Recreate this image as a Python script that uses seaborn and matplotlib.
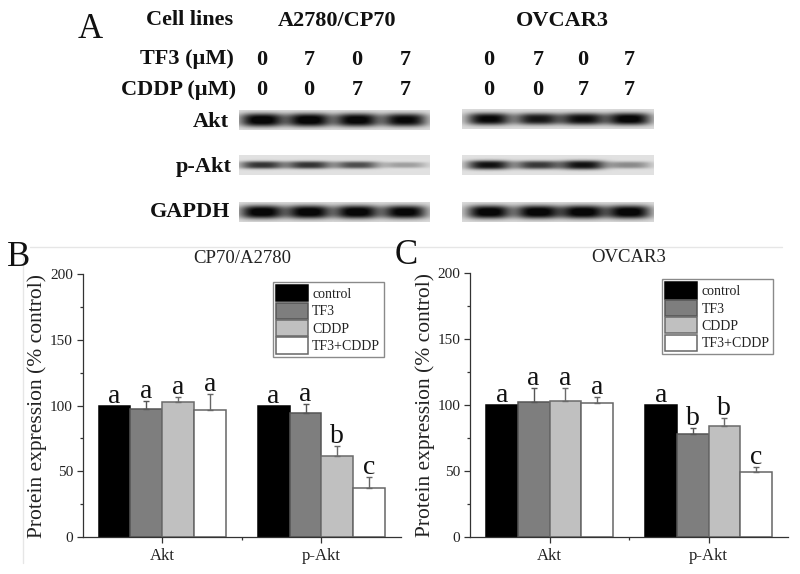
import numpy as np
import pandas as pd
import matplotlib
matplotlib.use('Agg')
import matplotlib.pyplot as plt
from matplotlib.lines import Line2D
from matplotlib.ticker import MultipleLocator, FixedLocator
import seaborn as sns

W, H = 800, 574

proteins = ['Akt', 'p-Akt']
treatments = ['control', 'TF3', 'CDDP', 'TF3+CDDP']
fills = ['#000000', '#7e7e7e', '#c0c0c0', '#ffffff']
edges = ['#000000', '#555555', '#6a6a6a', '#666666']

# values per treatment, order Akt, p-Akt
cp70_vals = [[100, 100], [97.3, 94], [103, 61.8], [96.3, 36.8]]
cp70_tops = [[100, 100], [103.7, 100.9], [106.7, 69.4], [108.8, 45.7]]
cp70_letters = [['a', 'a'], ['a', 'a'], ['a', 'b'], ['a', 'c']]

ovcar_vals = [[100, 100], [102, 78.2], [103, 84.3], [101.5, 48.9]]
ovcar_tops = [[100, 100], [112.7, 82.3], [112.7, 89.9], [105.8, 52.7]]
ovcar_letters = [['a', 'a'], ['a', 'b'], ['a', 'b'], ['a', 'c']]

tf3_doses = ['0', '7', '0', '7']
cddp_doses = ['0', '0', '7', '7']

akt_left = [0.90, 0.90, 0.88, 0.85]
akt_right = [0.85, 0.78, 0.82, 0.88]
pakt_left = [0.68, 0.68, 0.58, 0.26]
pakt_right = [0.82, 0.66, 0.82, 0.34]
gapdh_left = [0.90, 0.90, 0.90, 0.88]
gapdh_right = [0.90, 0.90, 0.90, 0.90]

lanes_left = [262, 309, 357, 405]
lanes_right = [489, 538, 583, 629]

sns.set_theme(style='white')
plt.rcParams['font.family'] = ['Liberation Serif', 'DejaVu Serif']
plt.rcParams['mathtext.default'] = 'regular'

fig = plt.figure(figsize=(W / 100, H / 100), dpi=100, facecolor='white')

# full figure axes in pixel coordinates for panel A and the panel letters
bg = fig.add_axes([0, 0, 1, 1])
bg.axis('off')


def blot(x0, x1, y0, y1, lanes, strengths, half_h, bg_level=0.86):
    xs = np.arange(x0, x1) + 0.5
    ys = np.arange(y0, y1) + 0.5
    xx, yy = np.meshgrid(xs, ys)
    img = np.full(xx.shape, bg_level)
    yc = (y0 + y1) / 2
    for lane, s in zip(lanes, strengths):
        prof = np.exp(-np.abs((xx - lane) / 22) ** 3 - np.abs((yy - yc) / (half_h * (0.55 + 0.45 * s))) ** 3)
        img -= s * prof
    img = np.clip(img, 0.03, 1)
    bg.imshow(img, cmap='gray', vmin=0, vmax=1, extent=(x0, x1, y1, y0),
              aspect='auto', interpolation='bilinear')


blot(239, 430, 110, 130, lanes_left, akt_left, 7)
blot(462, 654, 109, 129, lanes_right, akt_right, 6.5)
blot(239, 430, 155, 175, lanes_left, pakt_left, 4.5, 0.88)
blot(462, 654, 155, 175, lanes_right, pakt_right, 5, 0.88)
blot(239, 430, 202, 222, lanes_left, gapdh_left, 7)
blot(462, 654, 202, 222, lanes_right, gapdh_right, 7)

bg.set_xlim(0, W)
bg.set_ylim(H, 0)

bold = dict(fontweight='bold', fontsize=16, color='#111111', va='center')
bg.text(233, 20, 'Cell lines', ha='right', **bold)
bg.text(337, 21, 'A2780/CP70', ha='center', **bold)
bg.text(562, 21, 'OVCAR3', ha='center', **bold)
bg.text(234, 59, 'TF3 (µM)', ha='right', **bold)
bg.text(236, 90, 'CDDP (µM)', ha='right', **bold)
bg.text(229, 122, 'Akt', ha='right', **bold)
bg.text(232, 167, 'p-Akt', ha='right', **bold)
bg.text(230, 212, 'GAPDH', ha='right', **bold)
for lanes in (lanes_left, lanes_right):
    for lane, t, c in zip(lanes, tf3_doses, cddp_doses):
        bg.text(lane, 60, t, ha='center', **bold)
        bg.text(lane, 90, c, ha='center', **bold)

bg.text(78, 29, 'A', fontsize=25, ha='left', va='center', color='#111111')
bg.text(7, 258, 'B', fontsize=25, ha='left', va='center', color='#111111')
bg.text(395, 256, 'C', fontsize=25, ha='left', va='center', color='#111111')

# faint scan lines round the lower panels
bg.add_line(Line2D([30, 782], [247, 247], color='#e6e6e6', lw=1))
bg.add_line(Line2D([23, 23], [247, 563], color='#e6e6e6', lw=1))


def panel(rect, title, vals, tops, letters, legend_anchor):
    left, right, top, bottom = rect
    ax = fig.add_axes([left / W, 1 - bottom / H, (right - left) / W, (bottom - top) / H])
    ax.patch.set_alpha(0)
    rows = []
    for t, row in zip(treatments, vals):
        for p, v in zip(proteins, row):
            rows.append({'protein': p, 'treatment': t, 'value': v})
    df = pd.DataFrame(rows)

    sns.barplot(data=df, x='protein', y='value', hue='treatment', order=proteins,
                hue_order=treatments, palette=dict(zip(treatments, fills)), width=0.8,
                gap=0, saturation=1, errorbar=None, ax=ax)

    for cont, edge, tp, letter_row in zip(ax.containers, edges, tops, letters):
        for bar, t, letter in zip(cont.patches, tp, letter_row):
            bar.set_edgecolor(edge)
            bar.set_linewidth(1.1)
            xc = bar.get_x() + bar.get_width() / 2
            h = bar.get_height()
            if t > h:
                ax.errorbar(xc, h, yerr=[[0], [t - h]], color=edge, elinewidth=1,
                            capsize=2, capthick=1, zorder=1)
            ax.text(xc, t + 2.2, letter, ha='center', va='baseline', fontsize=20,
                    color='#111111')

    ax.set_xlim(-0.5, 1.5)
    ax.set_ylim(0, 200)
    ax.set_xlabel('')
    ax.set_ylabel('Protein expression (% control)', fontsize=15.5, color='#222222', labelpad=2)
    ax.yaxis.set_major_locator(MultipleLocator(50))
    ax.yaxis.set_minor_locator(MultipleLocator(25))
    ax.xaxis.set_minor_locator(FixedLocator([0.5]))
    ax.tick_params(axis='both', which='major', direction='out', bottom=True, left=True,
                   length=4, width=0.9, color='#333333', labelcolor='#222222', labelsize=11, pad=3)
    ax.tick_params(axis='both', which='minor', direction='out', bottom=True, left=True,
                   length=2.5, width=0.9, color='#333333')
    ax.tick_params(axis='x', which='major', pad=4, labelsize=12)
    sns.despine(ax=ax)
    for side in ('left', 'bottom'):
        ax.spines[side].set_linewidth(0.9)
        ax.spines[side].set_color('#333333')

    ax.set_title(title, fontsize=13.5, color='#222222', pad=8)

    leg = ax.legend(loc='upper left', bbox_to_anchor=legend_anchor, bbox_transform=fig.transFigure,
                    title=None, fontsize=10, frameon=True, fancybox=False, framealpha=1,
                    edgecolor='#8a8a8a', borderpad=0.25, labelspacing=0.1, handlelength=2.3,
                    handleheight=1.4, handletextpad=0.3, borderaxespad=0)
    for text in leg.get_texts():
        text.set_color('#222222')
    for handle, edge in zip(leg.get_patches(), edges):
        handle.set_edgecolor(edge)
        handle.set_linewidth(1.1)
    return ax


panel((82.7, 401, 274.3, 536.7), 'CP70/A2780', cp70_vals, cp70_tops, cp70_letters,
      (272.7 / W, 1 - 281.7 / H))
panel((470, 788, 273.3, 536.7), 'OVCAR3', ovcar_vals, ovcar_tops, ovcar_letters,
      (662 / W, 1 - 279 / H))

fig.savefig('out.png', dpi=100)
plt.close(fig)
